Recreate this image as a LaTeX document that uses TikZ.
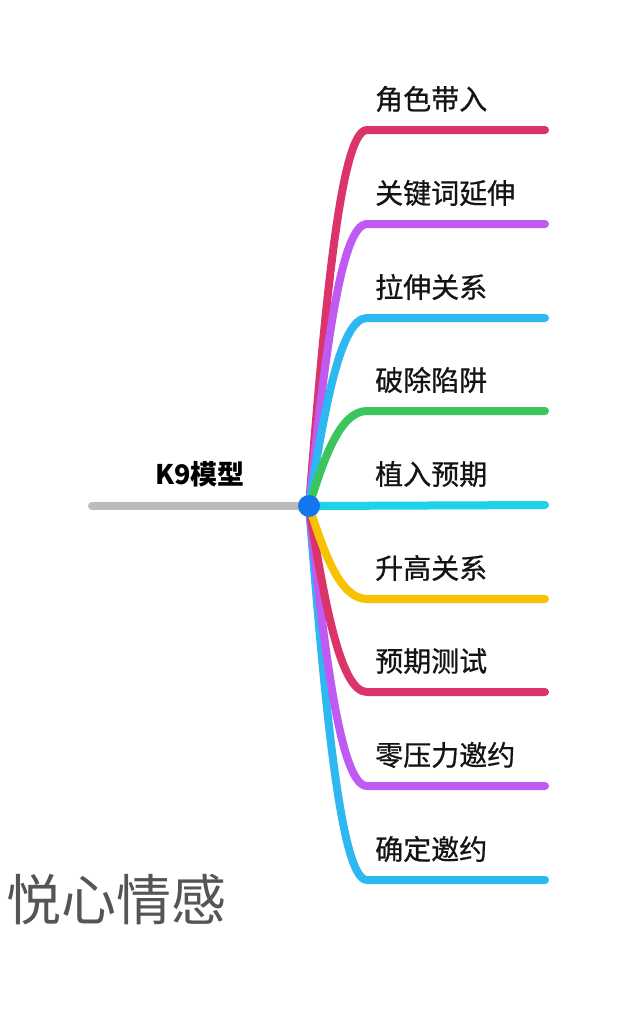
\documentclass[tikz,border=0pt]{standalone}
\usepackage{fontspec}
\newfontfamily\cjk{Noto Sans CJK SC}
\newfontfamily\cjkm[FakeBold=0.7]{Noto Sans CJK SC}
\definecolor{cRed}{HTML}{DA3468}
\definecolor{cPur}{HTML}{BF5AF2}
\definecolor{cBlu}{HTML}{2DB8F2}
\definecolor{cGrn}{HTML}{3CC55A}
\definecolor{cCya}{HTML}{1ED2E8}
\definecolor{cYel}{HTML}{F8C200}
\definecolor{cDot}{HTML}{1277EE}
\definecolor{cGry}{HTML}{BBBBBB}
\definecolor{cTxt}{HTML}{555555}
\tikzset{
  br/.style={line width=8pt, line cap=round, line join=round},
  lbl/.style={anchor=west, inner sep=0pt, font=\cjkm\fontsize{28}{30}\selectfont, text=black!92},
}
\begin{document}
\begin{tikzpicture}[x=1pt,y=-1pt]
\useasboundingbox (0,0) rectangle (640,1012);
\fill[white] (0,0) rectangle (640,1012);
\coordinate (rt) at (309,506);
\coordinate (g0) at (92,506);
\draw[br, cGry] (g0) -- (rt);
% branches, outermost first
\foreach \y/\c/\t [count=\i] in {130/cRed/角色带入, 880/cBlu/确定邀约, 224/cPur/关键词延伸, 786/cPur/零压力邀约, 318/cBlu/拉伸关系, 692/cRed/预期测试, 411/cGrn/破除陷阱, 599/cYel/升高关系}{
  \coordinate (e\i) at (545,\y);
  \draw[br, \c] (rt) .. controls (324,{(\y+506)/2}) and (340,\y) .. (367,\y) -- (e\i);
  \node[lbl] (t\i) at (375,\y-31) {\t};
}
\coordinate (e9) at (545,505);
\draw[br, cCya] (rt) -- (e9);
\node[lbl] (t9) at (375,474) {植入预期};
\node[circle, fill=cDot, minimum size=22pt, inner sep=0pt] (root) at (rt) {};
\node[inner sep=0pt, font=\cjk\bfseries\fontsize{27}{30}\selectfont] (k9) at (200,474) {K9模型};
\node[inner sep=0pt, text=cTxt, font=\cjk\fontsize{55}{60}\selectfont] (title) at (116,900) {悦心情感};
\end{tikzpicture}
\end{document}
